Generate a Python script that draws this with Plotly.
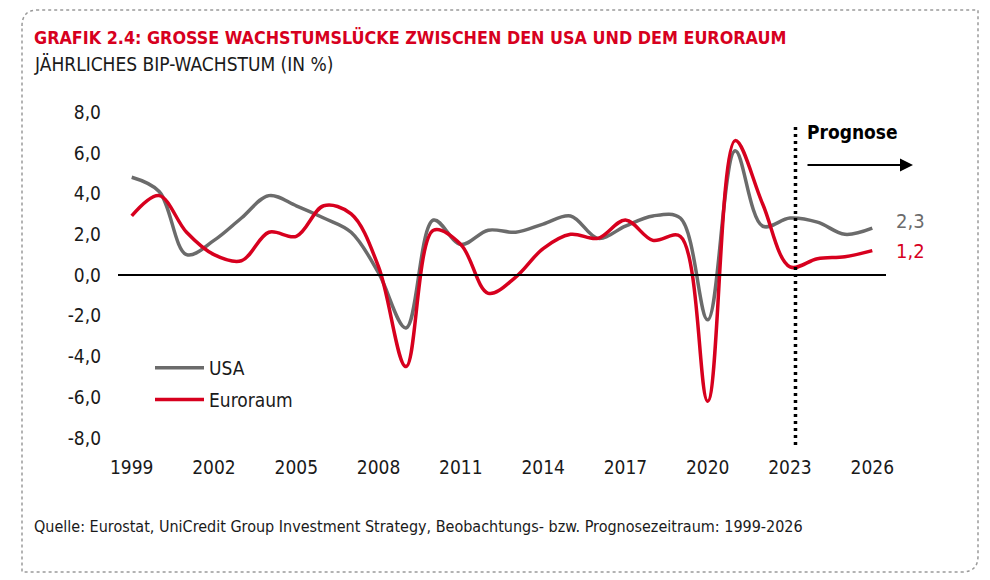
import plotly.graph_objects as go

years = list(range(1999, 2027))
usa = [4.8, 4.1, 1.0, 1.7, 2.8, 3.9, 3.4, 2.8, 2.1, 0.1, -2.6, 2.7, 1.5, 2.2, 2.1, 2.5, 2.9, 1.8, 2.4, 2.9, 2.8,
       -2.2, 6.1, 2.4, 2.8, 2.6, 2.0, 2.3]
euro = [2.9, 3.9, 2.1, 1.0, 0.7, 2.1, 1.9, 3.4, 3.0, 0.4, -4.5, 2.2, 1.5, -0.9, -0.1, 1.3, 2.0, 1.8, 2.7, 1.7, 1.9,
        -6.2, 6.6, 3.5, 0.4, 0.8, 0.9, 1.2]
x_ticks = [1999, 2002, 2005, 2008, 2011, 2014, 2017, 2020, 2023, 2026]
y_ticks = [-8, -6, -4, -2, 0, 2, 4, 6, 8]
y_ticktext = [f"{v:.1f}".replace(".", ",") for v in y_ticks]
forecast_start = 2023.2

RED = "#D7001E"
GREY = "#6B6B6B"
FONT = "DejaVu Sans Condensed, Liberation Sans Narrow, sans-serif"

W, H = 990, 580
ML, MR, MT, MB = 118, 104, 104, 134
PW, PH = W - ML - MR, H - MT - MB


def px(x):
    return (x - ML) / PW


def py(y):
    return (H - MB - y) / PH


fig = go.Figure()
fig.add_trace(go.Scatter(x=years, y=usa, name="USA", mode="lines",
                         line=dict(color=GREY, width=3.5, shape="spline", smoothing=1),
                         legendgroup="a"))
fig.add_trace(go.Scatter(x=years, y=euro, name="Euroraum", mode="lines",
                         line=dict(color=RED, width=3.5, shape="spline", smoothing=1),
                         legendgroup="b"))

shapes = []
# zero line
shapes.append(dict(type="line", xref="paper", yref="y", x0=0, x1=1, y0=0, y1=0,
                   line=dict(color="black", width=2)))
# forecast divider
shapes.append(dict(type="line", xref="x", yref="paper", x0=forecast_start, x1=forecast_start,
                   y0=py(445), y1=py(127), line=dict(color="black", width=3.5, dash="3px,4px")))
# rounded dotted border (top-left and bottom-right rounded)
x0, y0, x1, y1, r = 22, 10, 978, 572, 16
path = (f"M {px(x0)},{py(y0 + r)} Q {px(x0)},{py(y0)} {px(x0 + r)},{py(y0)} "
        f"L {px(x1)},{py(y0)} L {px(x1)},{py(y1 - r)} "
        f"Q {px(x1)},{py(y1)} {px(x1 - r)},{py(y1)} "
        f"L {px(x0)},{py(y1)} Z")
shapes.append(dict(type="path", xref="paper", yref="paper", path=path,
                   line=dict(color="#9A9A9A", width=1.5, dash="dot")))

annotations = [
    dict(xref="paper", yref="paper", x=px(32), y=py(37), xanchor="left", yanchor="middle",
         text="<b>GRAFIK 2.4: GROSSE WACHSTUMSLÜCKE ZWISCHEN DEN USA UND DEM EURORAUM</b>",
         showarrow=False, font=dict(family=FONT, size=17.8, color=RED)),
    dict(xref="paper", yref="paper", x=px(32), y=py(64), xanchor="left", yanchor="middle",
         text="JÄHRLICHES BIP-WACHSTUM (IN %)",
         showarrow=False, font=dict(family=FONT, size=19, color="#1a1a1a")),
    dict(xref="paper", yref="paper", x=px(32), y=py(526), xanchor="left", yanchor="middle",
         text="Quelle: Eurostat, UniCredit Group Investment Strategy, Beobachtungs- bzw. Prognosezeitraum: 1999-2026",
         showarrow=False, font=dict(family=FONT, size=16, color="#1a1a1a")),
    dict(xref="paper", yref="paper", x=px(805), y=py(132), xanchor="left", yanchor="middle",
         text="<b>Prognose</b>", showarrow=False, font=dict(family=FONT, size=19, color="black")),
    dict(xref="paper", yref="paper", x=px(913), y=py(165), ax=-107, ay=0,
         axref="pixel", ayref="pixel", text="", showarrow=True,
         arrowhead=2, arrowsize=1.3, arrowwidth=2, arrowcolor="black"),
    dict(xref="paper", yref="y", x=px(894), y=usa[-1] + 0.35, xanchor="left", yanchor="middle",
         text=f"{usa[-1]:.1f}".replace(".", ","), showarrow=False,
         font=dict(family=FONT, size=20, color=GREY)),
    dict(xref="paper", yref="y", x=px(894), y=euro[-1], xanchor="left", yanchor="middle",
         text=f"{euro[-1]:.1f}".replace(".", ","), showarrow=False,
         font=dict(family=FONT, size=20, color=RED)),
]

fig.update_layout(
    width=W, height=H,
    margin=dict(l=ML, r=MR, t=MT, b=MB),
    paper_bgcolor="white", plot_bgcolor="white",
    font=dict(family=FONT, size=19, color="#1a1a1a"),
    showlegend=True,
    legend=dict(x=px(150), y=py(349), xanchor="left", yanchor="top",
                bgcolor="rgba(0,0,0,0)", font=dict(size=19, color="#1a1a1a"),
                traceorder="grouped", tracegroupgap=4, itemwidth=49),
    shapes=shapes,
    annotations=annotations,
    xaxis=dict(range=[1998.5, 2026.5], tickvals=x_ticks, showgrid=False, zeroline=False,
               showline=False, ticks="", ticklabelstandoff=8, tickfont=dict(size=19)),
    yaxis=dict(range=[-8.4, 8.4], tickvals=y_ticks, ticktext=y_ticktext, showgrid=False,
               zeroline=False, showline=False, ticks="", ticklabelstandoff=16,
               tickfont=dict(size=19)),
)

fig.write_html("out.html", config={"displayModeBar": False},
               post_script="document.body.style.margin='0px';")
